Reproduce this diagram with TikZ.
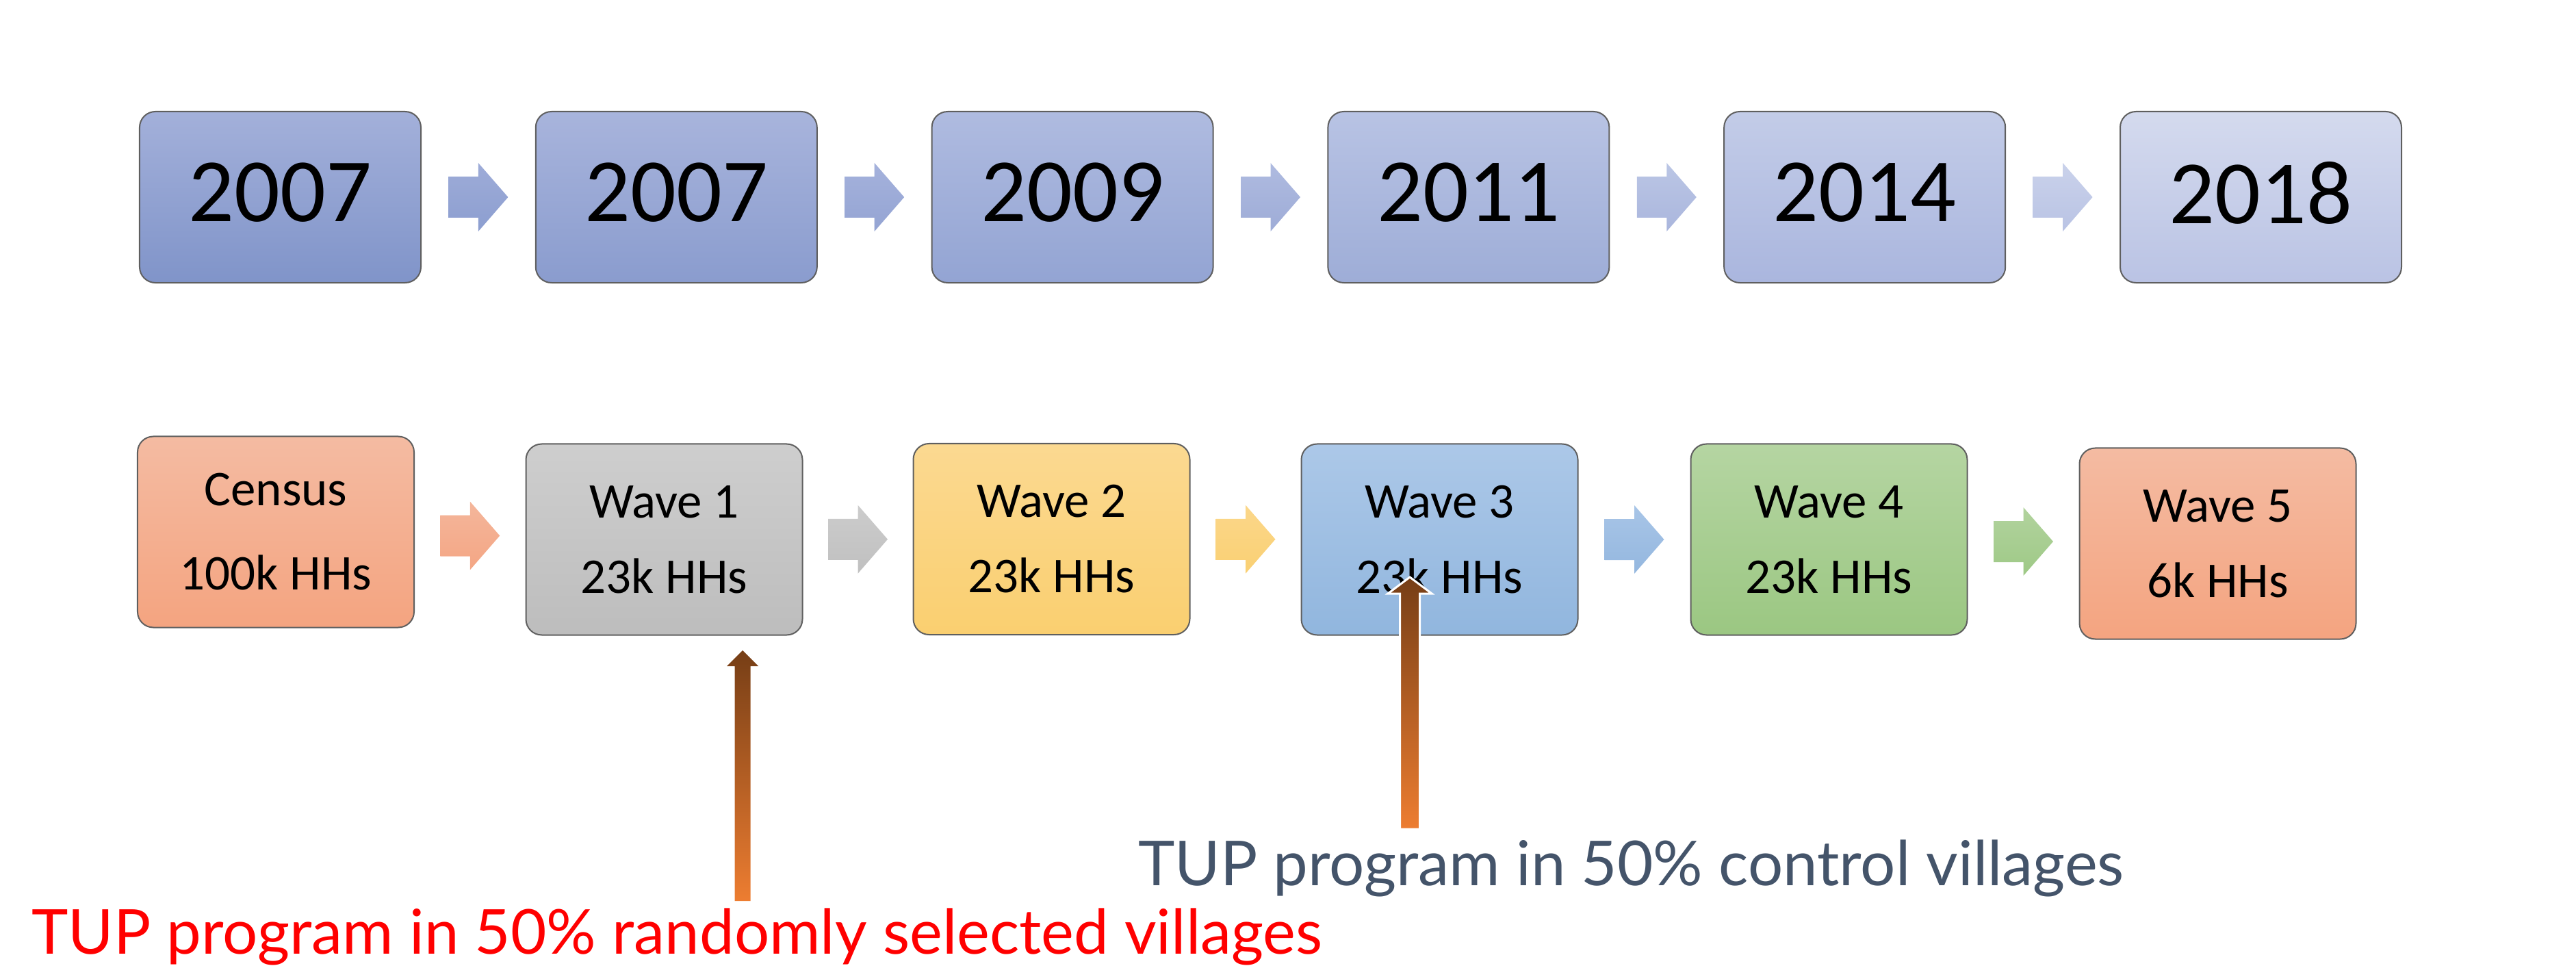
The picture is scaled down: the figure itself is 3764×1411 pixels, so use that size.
\documentclass[tikz,border=0pt]{standalone}
\usepackage{fontspec}
\setmainfont{Carlito}
\newfontfamily\latofont{Lato}
\usetikzlibrary{calc}
\definecolor{boxline}{RGB}{95,95,95}
\definecolor{redtext}{RGB}{255,0,0}
\definecolor{graytext}{RGB}{68,84,106}
\definecolor{brownc}{RGB}{118,62,22}
\definecolor{orangec}{RGB}{237,125,49}
\newcommand\blockarrow[3]{%
  \shade[top color=#2,bottom color=#3] (#1) ++(-43.5,-30) -- ++(43.5,0) -- ++(0,-20) -- ++(43.5,50) -- ++(-43.5,50) -- ++(0,-20) -- ++(-43.5,0) -- cycle;}
\begin{document}
\begin{tikzpicture}[x=0.2pt,y=-0.2pt,
  yearbox/.style={rounded corners=4.6pt, draw=boxline, line width=0.4pt,
    minimum width=82.2pt, minimum height=50pt, inner sep=0pt,
    font=\fontsize{26.4pt}{30pt}\selectfont, text depth=2.8pt},
  wavebox/.style={rounded corners=4.6pt, draw=boxline, line width=0.4pt,
    minimum width=80.8pt, minimum height=55.8pt, inner sep=0pt, align=center,
    font=\fontsize{14.6pt}{22pt}\selectfont},
  note/.style={anchor=base west, inner sep=0pt, font=\latofont\fontsize{18.1pt}{20pt}\selectfont}]
\useasboundingbox (0,0) rectangle (3764,1411);
% top row
\node[yearbox, top color={rgb,255:red,163;green,176;blue,218}, bottom color={rgb,255:red,128;green,148;blue,201}] (t1) at (409.5,288) {2007};
\node[yearbox, top color={rgb,255:red,168;green,180;blue,220}, bottom color={rgb,255:red,138;green,156;blue,206}] (t2) at (988.3,288) {2007};
\node[yearbox, top color={rgb,255:red,175;green,187;blue,224}, bottom color={rgb,255:red,147;green,164;blue,211}] (t3) at (1567.1,288) {2009};
\node[yearbox, top color={rgb,255:red,184;green,195;blue,228}, bottom color={rgb,255:red,158;green,173;blue,215}] (t4) at (2145.9,288) {2011};
\node[yearbox, top color={rgb,255:red,195;green,204;blue,232}, bottom color={rgb,255:red,170;green,182;blue,222}] (t5) at (2724.7,288) {2014};
\node[yearbox, top color={rgb,255:red,212;green,218;blue,238}, bottom color={rgb,255:red,186;green,195;blue,228}] (t6) at (3303.5,288) {2018};
\blockarrow{$(t1.east)!0.5!(t2.west)$}{{rgb,255:red,158;green,172;blue,216}}{{rgb,255:red,140;green,158;blue,208}}
\blockarrow{$(t2.east)!0.5!(t3.west)$}{{rgb,255:red,165;green,178;blue,220}}{{rgb,255:red,148;green,164;blue,211}}
\blockarrow{$(t3.east)!0.5!(t4.west)$}{{rgb,255:red,175;green,187;blue,224}}{{rgb,255:red,158;green,172;blue,215}}
\blockarrow{$(t4.east)!0.5!(t5.west)$}{{rgb,255:red,187;green,198;blue,229}}{{rgb,255:red,170;green,182;blue,221}}
\blockarrow{$(t5.east)!0.5!(t6.west)$}{{rgb,255:red,202;green,210;blue,235}}{{rgb,255:red,185;green,195;blue,228}}
% bottom row
\node[wavebox, font=\fontsize{14.6pt}{24.6pt}\selectfont, top color={rgb,255:red,244;green,187;blue,162}, bottom color={rgb,255:red,244;green,164;blue,128}] (b0) at (403,777) {Census\\100k HHs};
\node[wavebox, top color={rgb,255:red,206;green,206;blue,206}, bottom color={rgb,255:red,189;green,189;blue,189}] (b1) at (970.5,788) {Wave 1\\23k HHs};
\node[wavebox, top color={rgb,255:red,251;green,217;blue,145}, bottom color={rgb,255:red,250;green,207;blue,112}] (b2) at (1536.5,787.5) {Wave 2\\23k HHs};
\node[wavebox, top color={rgb,255:red,172;green,200;blue,232}, bottom color={rgb,255:red,145;green,182;blue,222}] (b3) at (2103.5,788) {Wave 3\\23k HHs};
\node[wavebox, top color={rgb,255:red,181;green,213;blue,162}, bottom color={rgb,255:red,155;green,199;blue,130}] (b4) at (2672.5,788) {Wave 4\\23k HHs};
\node[wavebox, top color={rgb,255:red,244;green,187;blue,162}, bottom color={rgb,255:red,244;green,164;blue,128}] (b5) at (3240.5,794) {Wave 5\\6k HHs};
\blockarrow{$(b0.east)!0.5!(b1.west)$}{{rgb,255:red,244;green,182;blue,155}}{{rgb,255:red,244;green,166;blue,132}}
\blockarrow{$(b1.east)!0.5!(b2.west)$}{{rgb,255:red,204;green,204;blue,204}}{{rgb,255:red,192;green,192;blue,192}}
\blockarrow{$(b2.east)!0.5!(b3.west)$}{{rgb,255:red,251;green,215;blue,138}}{{rgb,255:red,250;green,208;blue,115}}
\blockarrow{$(b3.east)!0.5!(b4.west)$}{{rgb,255:red,168;green,197;blue,231}}{{rgb,255:red,148;green,183;blue,223}}
\blockarrow{$(b4.east)!0.5!(b5.west)$}{{rgb,255:red,178;green,211;blue,158}}{{rgb,255:red,158;green,201;blue,134}}
% notes
\node[note, text=redtext] (n1) at (45,1393) {TUP program in 50\% randomly selected villages};
\node[note, text=graytext] (n2) at (1662,1293) {TUP program in 50\% control villages};
% vertical arrows
\coordinate (p1tip) at (1085,950);
\coordinate (p1base) at (1085,1316);
\shade[top color=brownc, bottom color=orangec]
  ($(p1base)+(-11.5,0)$) -- ($(p1tip)+(-11.5,23)$) -- ($(p1tip)+(-23,23)$) -- (p1tip)
  -- ($(p1tip)+(23,23)$) -- ($(p1tip)+(11.5,23)$) -- ($(p1base)+(11.5,0)$) -- cycle;
\coordinate (p2tip) at (2060,843);
\coordinate (p2base) at (2060,1211);
\shade[top color=brownc, bottom color=orangec, draw=white, line width=0.6pt]
  ($(p2base)+(-14.5,0)$) -- ($(p2tip)+(-14.5,24)$) -- ($(p2tip)+(-32,24)$) -- (p2tip)
  -- ($(p2tip)+(32,24)$) -- ($(p2tip)+(14.5,24)$) -- ($(p2base)+(14.5,0)$) -- cycle;
\end{tikzpicture}
\end{document}
